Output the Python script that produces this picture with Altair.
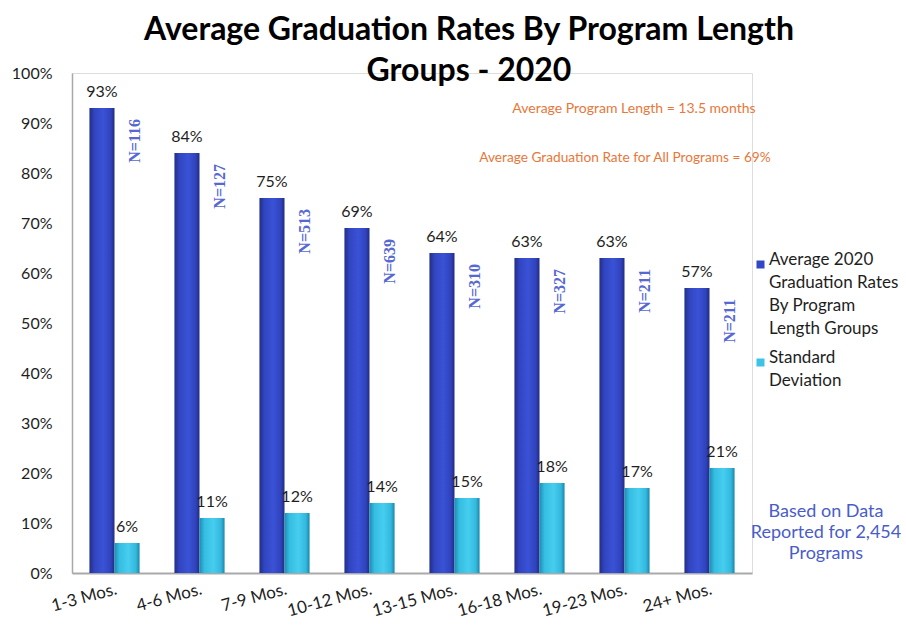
import json
import altair as alt
import pandas as pd

# ---------------- data ----------------
categories = ["1-3 Mos.", "4-6 Mos.", "7-9 Mos.", "10-12 Mos.", "13-15 Mos.",
              "16-18 Mos.", "19-23 Mos.", "24+ Mos."]
grad_rates = [93, 84, 75, 69, 64, 63, 63, 57]
std_devs = [6, 11, 12, 14, 15, 18, 17, 21]
n_counts = [116, 127, 513, 639, 310, 327, 211, 211]

series_names = ["Average 2020 Graduation Rates By Program Length Groups",
                "Standard Deviation"]
legend_lines = [["Average 2020", "Graduation Rates", "By Program", "Length Groups"],
                ["Standard", "Deviation"]]
title_lines = ["Average Graduation Rates By Program Length", "Groups - 2020"]
note_lines = ["Average Program Length = 13.5 months",
              "Average Graduation Rate for All Programs = 69%"]
source_lines = ["Based on Data", "Reported for 2,454", "Programs"]

rows = []
for c, g, s, n in zip(categories, grad_rates, std_devs, n_counts):
    rows.append(dict(category=c, series=series_names[0], value=g / 100,
                     label=f"{g}%", n=f"N={n}"))
    rows.append(dict(category=c, series=series_names[1], value=s / 100,
                     label=f"{s}%", n=""))
df = pd.DataFrame(rows)

# ---------------- styles ----------------
DARK = "#3347c6"
CYAN = "#3cc3e6"
FONT = "Lato"
TXT = "#1e1e1e"

grad_dark = alt.LinearGradient(
    gradient="linear", x1=0, x2=1, y1=0, y2=0,
    stops=[alt.GradientStop(offset=0, color="#222e86"),
           alt.GradientStop(offset=0.2, color="#3145c0"),
           alt.GradientStop(offset=0.55, color="#3a52d6"),
           alt.GradientStop(offset=0.85, color="#3043bd"),
           alt.GradientStop(offset=1, color="#212c80")])
grad_cyan = alt.LinearGradient(
    gradient="linear", x1=0, x2=1, y1=0, y2=0,
    stops=[alt.GradientStop(offset=0, color="#1d8db4"),
           alt.GradientStop(offset=0.2, color="#35bde2"),
           alt.GradientStop(offset=0.55, color="#46cdef"),
           alt.GradientStop(offset=0.85, color="#33b9de"),
           alt.GradientStop(offset=1, color="#1b86ab")])

x_enc = alt.X("category:N", sort=categories,
              scale=alt.Scale(paddingInner=0.41, paddingOuter=0.205),
              axis=alt.Axis(title=None, labelAngle=-15, labelAlign="right",
                            labelBaseline="top", labelFontSize=17, labelFont=FONT,
                            labelColor=TXT, ticks=False, labelPadding=8,
                            domainColor="#a9a9a9", domainWidth=2))
xoff_enc = alt.XOffset("series:N", sort=series_names,
                       scale=alt.Scale(domain=series_names, paddingInner=0,
                                       paddingOuter=0))
y_enc = alt.Y("value:Q", scale=alt.Scale(domain=[0, 1], nice=False),
              axis=alt.Axis(title=None, format=".0%", tickCount=10, grid=False,
                            ticks=False, labelFontSize=16, labelFont=FONT,
                            labelColor=TXT, labelPadding=20,
                            domainColor="#a9a9a9", domainWidth=1.5))

base = alt.Chart(df)

bars_dark = base.transform_filter(alt.datum.series == series_names[0]).mark_bar(
    color=grad_dark).encode(x=x_enc, xOffset=xoff_enc, y=y_enc)
bars_cyan = base.transform_filter(alt.datum.series == series_names[1]).mark_bar(
    color=grad_cyan).encode(x=x_enc, xOffset=xoff_enc, y=y_enc)

label_expr = (f"datum.label == '{series_names[0]}' ? {json.dumps(legend_lines[0])}"
              f" : {json.dumps(legend_lines[1])}")
legend_layer = base.mark_square(opacity=0).encode(
    x=x_enc, xOffset=xoff_enc, y=y_enc,
    color=alt.Color("series:N", sort=series_names,
                    scale=alt.Scale(domain=series_names, range=[DARK, CYAN]),
                    legend=alt.Legend(title=None, orient="none", legendX=680,
                                      legendY=183, symbolType="square",
                                      symbolSize=64, symbolOpacity=1,
                                      symbolStrokeWidth=0, labelFont=FONT,
                                      labelFontSize=17, labelColor=TXT,
                                      labelLimit=400, labelExpr=label_expr,
                                      labelBaseline="alphabetic", labelOffset=0,
                                      rowPadding=11)))

value_labels = base.mark_text(baseline="bottom", dy=-8, fontSize=16, font=FONT,
                              color=TXT).encode(
    x=x_enc, xOffset=xoff_enc, y=y_enc, text="label:N")

n_labels = base.transform_filter(alt.datum.series == series_names[0]).mark_text(
    angle=270, align="right", baseline="middle", dx=-11, dy=20,
    font="Liberation Serif", fontWeight="bold", fontSize=16,
    color="#5668d2").encode(x=x_enc, y=y_enc, text="n:N")

one = pd.DataFrame({"k": [0]})
note1 = alt.Chart(one).mark_text(text=note_lines[0], font=FONT, fontSize=14,
                                 color="#e8773a").encode(
    x=alt.value(562), y=alt.value(36))
note2 = alt.Chart(one).mark_text(text=note_lines[1], font=FONT, fontSize=13.7,
                                 color="#e8773a").encode(
    x=alt.value(553), y=alt.value(85))
source = alt.Chart(one).mark_text(text=source_lines, font=FONT, fontSize=18,
                                  lineHeight=21, baseline="alphabetic",
                                  color="#4a5cc9").encode(
    x=alt.value(754), y=alt.value(444))

chart = alt.layer(
    legend_layer, bars_dark, bars_cyan, value_labels, n_labels, note1, note2, source
).properties(
    width=680, height=500,
    autosize=alt.AutoSizeParams(type="none"),
    padding={"left": 72, "top": 73, "right": 154, "bottom": 58},
    title=alt.TitleParams(text=title_lines, font=FONT, fontSize=32,
                          fontWeight="bold", color="#000", anchor="middle",
                          dx=57, dy=27, lineHeight=41),
).configure_view(stroke=None).configure(
    background="white", style={"guide-label": {"lineHeight": 23}})

chart.save("out.html", embed_options={"renderer": "svg", "actions": False})
